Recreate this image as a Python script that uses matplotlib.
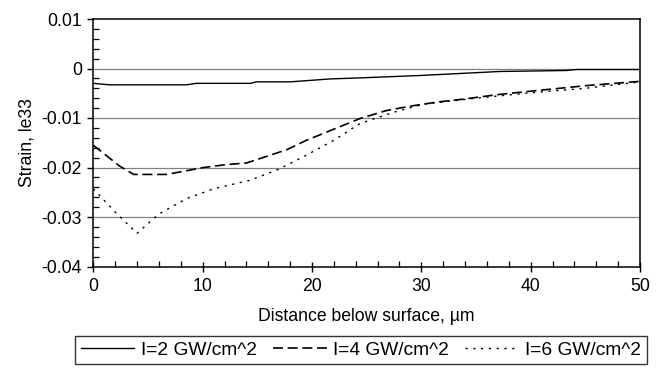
import matplotlib
matplotlib.use("Agg")
import matplotlib.pyplot as plt
from matplotlib.ticker import MultipleLocator

plt.rcParams['font.family'] = ['Liberation Sans', 'DejaVu Sans']
plt.rcParams['axes.unicode_minus'] = False

# I = 2 GW/cm^2
x_i2 = [0, 1.5, 8.5, 9.4, 14.4, 14.9, 18, 21.7, 24.4, 30, 37.2, 43.3, 44.2, 50]
y_i2 = [-0.0030, -0.0033, -0.0033, -0.0030, -0.0030, -0.0027, -0.0027, -0.0021,
        -0.0019, -0.0014, -0.0006, -0.0004, -0.0002, -0.0002]

# I = 4 GW/cm^2
x_i4 = [0, 2.4, 3.7, 6.7, 10.1, 12.2, 14.0, 17.7, 19.5, 24.4, 26.8, 29.0, 31.4,
        33.8, 36.9, 40.8, 45.4, 50]
y_i4 = [-0.0155, -0.0197, -0.0214, -0.0214, -0.0200, -0.0194, -0.0191, -0.0164,
        -0.0145, -0.0101, -0.0085, -0.0076, -0.0068, -0.0062, -0.0053, -0.0044,
        -0.0034, -0.0026]

# I = 6 GW/cm^2
x_i6 = [0, 2, 4, 6, 8.5, 11, 14.3, 16.9, 19.5, 22, 24.4, 27.7, 30.2, 35, 40, 45, 50]
y_i6 = [-0.0243, -0.0290, -0.0333, -0.0294, -0.0263, -0.0243, -0.0226, -0.0204,
        -0.0175, -0.0145, -0.0111, -0.0087, -0.0072, -0.0060, -0.0049, -0.0040,
        -0.0027]

series_labels = ['I=2 GW/cm^2', 'I=4 GW/cm^2', 'I=6 GW/cm^2']
y_ticks = [-0.04, -0.03, -0.02, -0.01, 0, 0.01]
y_tick_labels = ['-0.04', '-0.03', '-0.02', '-0.01', '0', '0.01']
x_ticks = [0, 10, 20, 30, 40, 50]

fs = 12.7
fig = plt.figure(figsize=(6.72, 3.69), dpi=100)
ax = fig.add_axes([93.3 / 672, 1 - 266.5 / 369, 546.7 / 672, 247.5 / 369])

# horizontal grid lines
for yv in y_ticks[1:-1]:
    ax.axhline(yv, color='#808080', lw=0.9, zorder=1)

l2, = ax.plot(x_i2, y_i2, color='black', lw=1.0, zorder=3)
l4, = ax.plot(x_i4, y_i4, color='black', lw=1.2, dashes=(6.0, 2.8), zorder=3)
l6, = ax.plot(x_i6, y_i6, color='black', lw=1.0, dashes=(1.6, 4.0), zorder=3)

ax.set_xlim(0, 50)
ax.set_ylim(-0.04, 0.01)
ax.set_xticks(x_ticks)
ax.set_yticks(y_ticks)
ax.set_yticklabels(y_tick_labels)
ax.xaxis.set_minor_locator(MultipleLocator(2))
ax.yaxis.set_minor_locator(MultipleLocator(0.002))

ax.tick_params(axis='x', which='major', direction='inout', length=7.2, width=1.0,
               pad=4.5, labelsize=fs)
ax.tick_params(axis='y', which='major', direction='out', length=4.3, width=1.0,
               pad=4, labelsize=fs)
ax.tick_params(which='minor', direction='in', length=4, width=0.9)

for s in ax.spines.values():
    s.set_linewidth(1.1)

ax.set_xlabel('Distance below surface, \u00b5m', fontsize=fs, labelpad=9.5)
ax.set_ylabel('Strain, le33', fontsize=fs, labelpad=4)

leg = fig.legend([l2, l4, l6], series_labels, loc='center', ncol=3,
                 bbox_to_anchor=(75 / 672, 1 - 368 / 369, 572 / 672, 36 / 369),
                 mode='expand', fontsize=13.8, frameon=True, fancybox=False,
                 edgecolor='black', handlelength=2.8, handletextpad=0.35,
                 borderaxespad=0, borderpad=0.3)
leg.get_frame().set_linewidth(1.0)

fig.savefig('out.png', dpi=100)
